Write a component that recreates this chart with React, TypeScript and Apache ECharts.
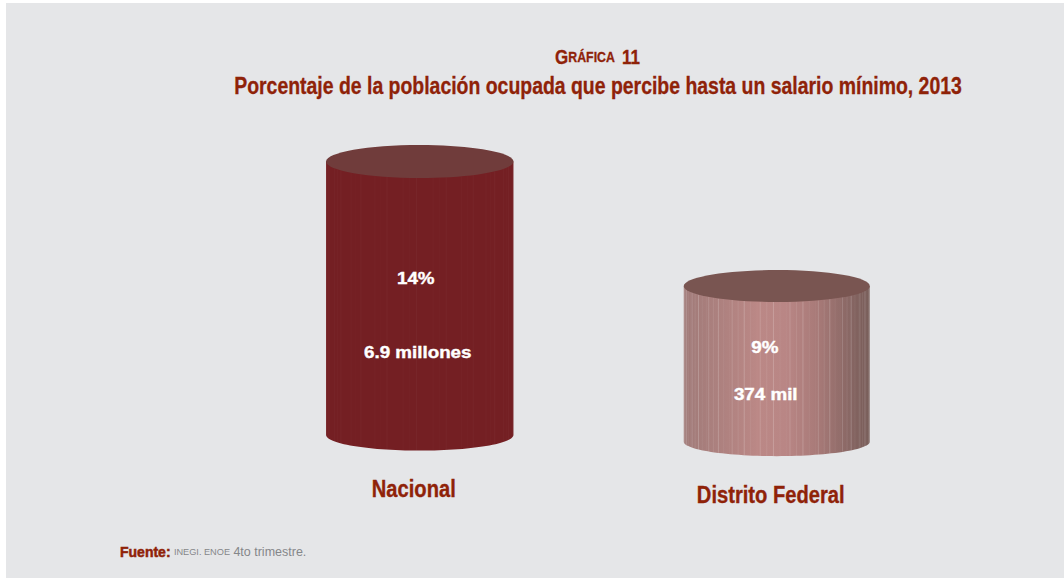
import React, { useEffect, useRef } from "react";
import * as echarts from "echarts";

const categories = ["Nacional", "Distrito Federal"];
const percentValues = [14, 9];
const baseValues = [3.02, 2.75];
const percentLabels = ["14%", "9%"];
const peopleLabels = ["6.9 millones", "374 mil"];

const titleMain = "Porcentaje de la población ocupada que percibe hasta un salario mínimo, 2013";

const RED = "#8f2208";
const SANS = '"Liberation Sans", Arial, sans-serif';

const looks = [
  {
    rx: 93.7,
    ryTop: 16.5,
    ryBottom: 15.7,
    top: "#703c3b",
    body: [
      [0, "#741f23"],
      [1, "#741f23"],
    ],
    stripe: 0.06,
    pct: { dx: -4, dy: 116.5 },
    ppl: { dx: -2, dy: 190.5 },
    cat: { dx: -6, y: 489 },
  },
  {
    rx: 93,
    ryTop: 16,
    ryBottom: 14.5,
    top: "#795551",
    body: [
      [0, "#a07a78"],
      [0.12, "#a87e7c"],
      [0.4, "#bb8886"],
      [0.55, "#b98685"],
      [0.72, "#a87a78"],
      [0.9, "#876663"],
      [1, "#755a56"],
    ],
    stripe: 0.32,
    pct: { dx: -12, dy: 61 },
    ppl: { dx: -11, dy: 108 },
    cat: { dx: -6, y: 495 },
  },
];

const renderItem = (params: any, api: any) => {
  const i = params.dataIndex;
  const look = looks[i];
  const [cx, yTop] = api.coord([api.value(0), api.value(1)]);
  const [, yBase] = api.coord([api.value(0), api.value(2)]);
  const { rx, ryTop, ryBottom } = look;

  const outline: number[][] = [
    [cx - rx, yTop],
    [cx + rx, yTop],
  ];
  for (let a = 0; a <= 60; a++) {
    const t = (a / 60) * Math.PI;
    outline.push([cx + rx * Math.cos(t), yBase + ryBottom * Math.sin(t)]);
  }

  const stripes: any[] = [];
  for (let k = 1; k < 88; k++) {
    const t = (k / 88) * Math.PI;
    const x = cx + rx * Math.cos(t);
    const s = Math.sin(t);
    const strength = [1, 0.1, 0.45, 0.05, 0.75, 0.2, 0.02, 0.3, 0.05][k % 9];
    stripes.push({
      type: "line",
      shape: { x1: x, y1: yTop + ryTop * s, x2: x, y2: yBase + ryBottom * s },
      style: { stroke: "#ffffff", lineWidth: 0.6, opacity: look.stripe * strength },
    });
  }

  const label = (text: string, x: number, y: number) => ({
    type: "text",
    x,
    y,
    scaleX: 1.105,
    style: {
      text,
      x: 0,
      y: 0,
      align: "center",
      verticalAlign: "middle",
      fill: "#ffffff",
      font: `bold 17px ${SANS}`,
      stroke: "#ffffff",
      lineWidth: 0.4,
    },
  });

  return {
    type: "group",
    children: [
      {
        type: "polygon",
        shape: { points: outline },
        style: {
          fill: {
            type: "linear",
            x: 0,
            y: 0,
            x2: 1,
            y2: 0,
            colorStops: look.body.map(([offset, color]) => ({ offset, color })),
          },
        },
      },
      ...stripes,
      {
        type: "ellipse",
        shape: { cx, cy: yTop, rx, ry: ryTop },
        style: { fill: look.top },
      },
      label(percentLabels[i], cx + look.pct.dx, yTop + look.pct.dy),
      label(peopleLabels[i], cx + look.ppl.dx, yTop + look.ppl.dy),
      {
        type: "text",
        x: cx + look.cat.dx,
        y: look.cat.y,
        scaleX: 0.84,
        style: {
          text: categories[i],
          x: 0,
          y: 0,
          align: "center",
          verticalAlign: "middle",
          fill: RED,
          font: `bold 24px ${SANS}`,
          stroke: RED,
          lineWidth: 0.35,
        },
      },
    ],
  };
};

export default function App() {
  const ref = useRef<HTMLDivElement>(null);

  useEffect(() => {
    const chart = echarts.init(ref.current!, null, { renderer: "svg" });
    chart.setOption({
      animation: false,
      backgroundColor: "#ffffff",
      tooltip: { show: false },
      graphic: [
        {
          type: "rect",
          z: -10,
          shape: { x: 6, y: 3, width: 1058, height: 575 },
          style: { fill: "#e5e6e8" },
        },
        {
          type: "text",
          x: 597.5,
          y: 57,
          scaleX: 0.85,
          style: {
            text: "{big|G}{small|RÁFICA} {num|11}",
            x: 0,
            y: 0,
            align: "center",
            verticalAlign: "middle",
            fill: RED,
            rich: {
              big: { font: `bold 20px ${SANS}`, fill: RED, stroke: RED, lineWidth: 0.3 },
              small: { font: `bold 14.5px ${SANS}`, fill: RED, stroke: RED, lineWidth: 0.3 },
              num: { font: `bold 20px ${SANS}`, fill: RED, stroke: RED, lineWidth: 0.3, padding: [0, 0, 0, 5] },
            },
          },
        },
        {
          type: "text",
          x: 598,
          y: 86,
          scaleX: 0.845,
          style: {
            text: titleMain,
            x: 0,
            y: 0,
            align: "center",
            verticalAlign: "middle",
            fill: RED,
            font: `bold 23px ${SANS}`,
            stroke: RED,
            lineWidth: 0.3,
          },
        },
        {
          type: "text",
          x: 120,
          y: 552,
          style: {
            text: "{a|Fuente:} {b|INEGI. ENOE} {c|4to trimestre.}",
            x: 0,
            y: 0,
            verticalAlign: "middle",
            rich: {
              a: { font: `bold 14px ${SANS}`, fill: RED, stroke: RED, lineWidth: 0.5 },
              b: { font: `9.2px ${SANS}`, fill: "#85868a" },
              c: { font: `12.5px ${SANS}`, fill: "#85868a" },
            },
          },
        },
      ],
      grid: { left: 241.25, width: 714, top: 111.7, height: 398.4 },
      xAxis: { type: "category", data: categories, show: false },
      yAxis: { type: "value", min: 0, max: 16, show: false },
      series: [
        {
          type: "custom",
          silent: true,
          clip: false,
          renderItem,
          encode: { x: 0, y: 1 },
          data: categories.map((_, i) => [i, percentValues[i], baseValues[i]]),
        },
      ],
    });
    return () => chart.dispose();
  }, []);

  return (
    <div style={{ position: "fixed", left: 0, top: 0, width: 1064, height: 578, overflow: "hidden" }}>
      <div ref={ref} style={{ width: 1064, height: 578 }} />
    </div>
  );
}
